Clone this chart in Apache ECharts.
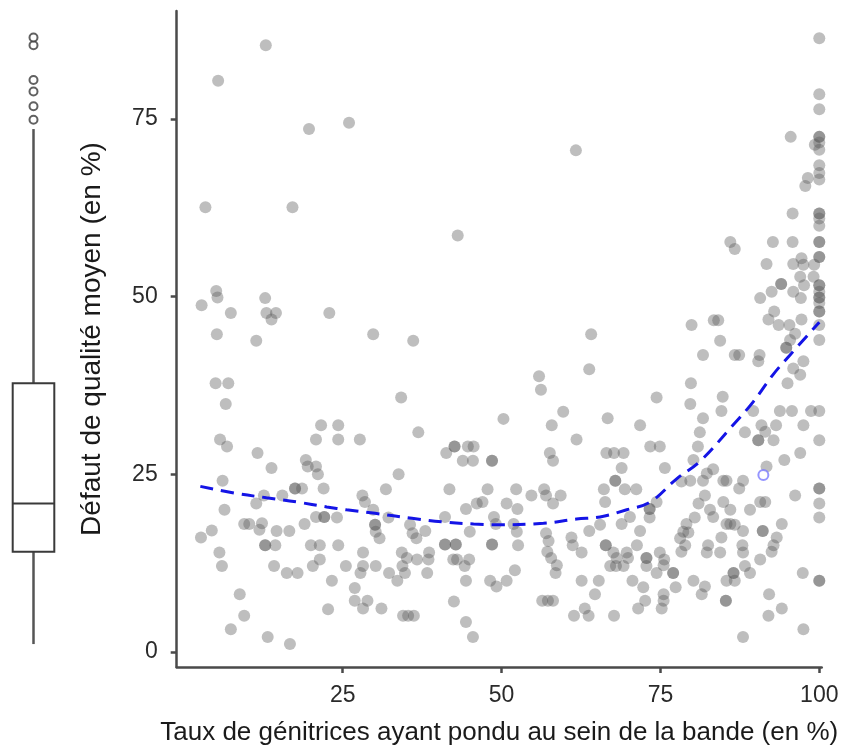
<!DOCTYPE html>
<html>
<head>
<meta charset="utf-8">
<script src="https://cdn.jsdelivr.net/npm/echarts@6/dist/echarts.min.js"></script>
<style>
html,body{margin:0;padding:0;background:#fff;}
#chart{width:862px;height:749px;}
</style>
</head>
<body>
<div id="chart"></div>
<script>
// ---- data ----
const xTicks = [25, 50, 75, 100];
const yTicks = [0, 25, 50, 75];
const xAxisTitle = 'Taux de génitrices ayant pondu au sein de la bande (en %)';
const yAxisTitle = 'Défaut de qualité moyen (en %)';

// scatter points [taux pondu %, défaut qualité %]
const pointsLeft = [
[12.9,85.4],[5.4,80.4],[19.7,73.6],[26.0,74.5],[3.4,62.6],[17.1,62.6],[5.1,50.8],[5.3,49.9],[2.8,48.8],[7.4,47.7],[12.8,49.8],[13.0,47.7],[14.5,47.7],[13.8,46.8],[22.9,47.7],[61.7,70.6],[43.1,58.6],
[5.2,44.7],[11.4,43.8],[5.0,37.8],[7.0,37.8],[6.6,34.9],[5.7,29.9],[6.8,28.9],[11.6,28.0],[13.8,25.9],[21.6,31.9],[20.8,29.9],[24.3,31.9],[24.3,29.9],[19.2,27.0],[19.5,26.1],[20.8,26.1],[21.1,25.0],[6.1,24.1],[17.5,23.0],[17.5,23.0],[18.6,23.0],[22.0,23.0],[15.5,22.0],[12.6,22.0],[11.4,20.9],[6.4,20.0],[9.5,18.0],[10.3,18.0],[12.3,18.1],[11.9,17.2],[4.4,17.1],[2.7,16.1],[14.6,17.0],[16.6,17.0],[19.0,18.0],[20.8,19.0],[22.1,19.0],[22.1,19.0],[24.1,18.9],[12.8,15.0],[12.8,15.0],[14.4,15.0],[20.0,15.0],[21.4,15.0],[24.3,15.0],[5.6,14.0],[6.0,12.1],[14.2,12.1],[16.2,11.1],[17.9,11.1],[20.3,12.1],[21.4,13.0],[23.3,10.0],[8.8,8.1],[9.5,5.1],[22.7,6.0],[7.4,3.2],[13.2,2.1],[16.7,1.1]
];
const pointsMiddle = [
[29.8,44.7],[36.1,43.8],[34.2,35.8],[36.9,30.9],[27.7,29.9],[50.3,32.8],[42.6,28.9],[42.6,28.9],[41.3,28.0],[44.7,28.9],[45.6,28.9],[43.9,26.9],[45.5,26.9],[48.5,26.9],[48.5,26.9],[33.8,25.0],[31.8,22.9],[41.8,22.9],[47.8,22.9],[28.1,22.0],[28.5,21.1],[29.8,20.0],[44.4,20.1],[46.1,20.9],[47.0,21.1],[50.8,20.9],[32.2,18.9],[30.1,17.9],[30.1,17.9],[30.2,16.9],[30.8,16.0],[35.6,17.9],[36.0,16.7],[36.6,16.0],[38.0,17.0],[41.1,19.0],[45.0,16.9],[48.8,19.0],[49.1,18.0],[28.2,14.0],[25.5,12.1],[28.2,12.1],[30.2,12.1],[27.8,11.1],[32.3,11.1],[34.3,14.0],[35.1,13.2],[34.4,12.1],[34.8,11.1],[36.7,13.0],[38.6,14.0],[38.5,13.0],[38.3,11.1],[33.6,10.0],[41.1,15.1],[41.1,15.1],[42.8,15.1],[42.8,15.1],[42.4,13.0],[43.0,13.0],[44.9,13.0],[44.2,12.1],[48.5,15.1],[48.5,15.1],[44.4,10.0],[48.2,10.0],[49.2,9.2],[50.8,10.0],[26.9,9.0],[26.9,7.2],[28.2,6.1],[28.9,7.2],[31.1,6.1],[34.5,5.1],[35.3,5.1],[36.2,5.1],[42.5,7.1],[44.4,4.2],[45.5,2.1],
[64.1,44.7],[63.8,39.8],[55.9,38.8],[56.2,36.9],[59.7,33.8],[57.9,31.9],[61.8,29.9],[66.7,32.9],[71.8,31.9],[74.4,35.8],[57.6,28.0],[58.1,26.9],[66.5,28.0],[67.7,28.0],[69.2,28.0],[68.9,25.9],[73.4,28.9],[74.9,28.9],[75.7,25.9],[52.3,22.9],[54.7,22.0],[56.7,22.9],[57.0,22.0],[58.1,20.9],[59.3,22.0],[66.1,22.9],[66.3,21.1],[67.9,24.1],[67.9,24.1],[69.4,22.9],[71.2,22.9],[52.5,20.1],[51.9,18.0],[52.4,16.9],[52.6,15.0],[52.1,11.5],[57.0,16.7],[57.4,15.6],[57.2,14.1],[57.8,13.2],[58.7,12.2],[58.5,11.1],[61.0,16.1],[61.2,15.0],[62.6,14.0],[63.8,17.0],[62.6,10.0],[65.3,10.0],[64.7,8.1],[56.4,7.2],[57.3,7.2],[58.1,7.2],[61.4,5.1],[63.1,6.1],[63.7,5.1],[67.7,5.1],[65.5,17.9],[66.4,15.0],[66.4,15.0],[67.6,14.0],[68.1,13.2],[67.1,12.1],[68.0,12.1],[69.7,14.0],[69.9,13.2],[69.2,12.1],[68.9,18.0],[70.2,19.0],[71.8,17.0],[71.3,15.0],[73.3,20.1],[73.3,20.1],[73.3,18.9],[74.4,21.1],[72.8,13.2],[72.8,13.2],[72.8,12.1],[74.9,14.0],[75.6,13.0],[75.5,12.2],[74.4,11.1],[77.0,11.1],[77.0,11.1],[77.4,9.1],[70.6,10.0],[72.3,9.1],[72.6,7.2],[71.5,6.1],[75.5,8.1],[75.5,7.2],[75.2,6.1]
];
const pointsRight = [
[100,86.4],[100,78.5],[100,76.4],[100,72.5],[100,72.5],[100,71.7],[99.3,71.4],[100,70.7],[100,68.5],[100,67.4],[100,66.5],[100,61.7],[100,61.7],[100,61.0],[100,60.0],[100,57.7],[100,57.7],[100,55.6],[100,55.6],[100,51.6],[100,51.6],[100,50.7],[100,49.9],[100,49.9],[100,49.1],[100,47.9],[100,47.9],[100,46.0],
[95.5,72.5],[98.2,66.7],[97.8,65.6],[95.8,61.7],[86.0,57.7],[86.7,56.7],[92.7,57.7],[95.8,57.7],[91.7,54.6],[95.9,54.6],[97.2,55.4],[97.5,54.5],[99.2,54.5],[97.0,52.8],[97.6,51.6],[99.1,52.8],[94.0,51.8],[94.0,51.8],[92.5,50.7],[90.7,49.8],[95.9,50.7],[97.1,49.8],[92.9,47.9],[92.0,46.8],[79.9,46.0],[83.4,46.7],[84.1,46.7],[93.6,46.0],[95.3,46.0],[97.2,46.8],
[84.4,43.8],[81.7,41.8],[86.7,41.8],[87.4,41.8],[90.6,41.8],[90.4,40.9],[94.8,42.8],[94.8,42.8],[95.4,43.9],[96.2,44.8],[100,43.9],[97.5,40.9],[95.9,39.9],[97.0,39.0],[95.0,37.8],[79.8,37.8],[84.8,35.9],[84.6,33.9],[79.7,34.9],[81.7,32.9],[81.2,30.9],[80.9,28.9],[80.2,27.0],[89.6,33.9],[93.8,33.9],[95.7,33.9],[98.7,33.9],[100,33.9],[90.9,31.9],[91.5,31.0],[93.2,31.9],[92.8,29.8],[90.4,29.8],[90.4,29.8],[88.3,30.9],[97.5,31.9],[100,29.8],[97.0,28.0],[94.5,27.0],[91.7,26.1],
[83.3,25.7],[82.3,25.1],[81.7,24.1],[79.7,24.1],[78.3,24.0],[84.9,24.1],[85.4,24.1],[88.0,24.1],[87.4,23.0],[100,23.0],[100,23.0],[96.2,22.0],[100,20.9],[100,18.9],[81.0,20.9],[82.0,22.0],[82.8,20.0],[83.3,19.0],[84.9,21.1],[86.0,20.0],[89.1,20.0],[90.7,21.1],[91.5,21.1],[80.4,18.9],[79.1,18.0],[78.6,16.9],[79.4,16.8],[78.1,16.0],[78.9,15.0],[78.3,14.1],[85.4,18.0],[86.0,18.0],[86.7,17.9],[84.6,16.1],[88.0,17.0],[91.1,17.0],[91.1,17.0],[94.1,18.0],[93.3,16.1],[92.8,15.0],[92.5,14.1],[82.5,15.0],[82.3,14.0],[84.4,14.0],[87.9,15.0],[88.0,14.0],[90.7,13.0],[88.3,12.1],[89.1,11.1],[86.5,11.1],[86.5,11.1],[85.4,10.0],[86.7,10.0],[80.2,10.0],[82.0,9.2],[81.5,8.1],[85.3,7.2],[85.3,7.2],[97.4,11.1],[100,10.0],[100,10.0],[92.1,8.1],[94.1,6.1],[92.0,5.1],[97.5,3.2],[88.0,2.1]
];
const highlightPoint = [[91.2, 24.9]];

// smoothed trend (dashed blue)
const trendX = [2.6, 8.3, 13.0, 17.8, 22.5, 25.6, 30.1, 35.9, 40.6, 45.6, 49.7, 56.6, 61.8, 65.5, 69.7, 73.4, 77.6, 81.2, 86.4, 89.6, 92.7, 95.4, 100];
const trendY = [23.3, 22.3, 21.7, 21.1, 20.4, 20.0, 19.5, 18.8, 18.3, 18.0, 17.9, 18.1, 18.7, 19.0, 20.0, 21.1, 24.4, 26.8, 31.9, 35.2, 39.0, 41.8, 46.4];

// marginal boxplot of the y values: [low whisker, Q1, median, Q3, high whisker]
const boxStats = [1.1, 14.1, 20.9, 37.8, 73.6];
const boxOutliers = [74.9, 76.8, 78.9, 80.5, 85.4, 86.5];

// ---- chart ----
const Y_MIN = -2.13, Y_MAX = 90.22;
const X_MIN = -1.12, X_MAX = 100.38;
const FONT = "'Liberation Sans', Arial, sans-serif";
const AXIS_COLOR = '#4a4a4a';

const allPoints = pointsLeft.concat(pointsMiddle, pointsRight);
const trend = trendX.map((x, i) => [x, trendY[i]]);

const chart = echarts.init(document.getElementById('chart'), null, {renderer: 'canvas'});
chart.setOption({
  animation: false,
  backgroundColor: '#ffffff',
  grid: [
    {left: 176.7, right: 40.3, top: 11, bottom: 82, containLabel: false, outerBoundsMode: 'none'},
    {left: 0, width: 67, top: 11, bottom: 82, containLabel: false, outerBoundsMode: 'none'}
  ],
  xAxis: [
    {
      type: 'value', gridIndex: 0, min: X_MIN, max: X_MAX,
      name: xAxisTitle, nameLocation: 'middle', nameGap: 53,
      nameTextStyle: {fontFamily: FONT, fontSize: 26, color: '#1a1a1a'},
      axisLine: {show: true, onZero: false, lineStyle: {color: AXIS_COLOR, width: 2.5}},
      axisTick: {show: true, length: 6, customValues: xTicks, lineStyle: {color: AXIS_COLOR, width: 2.5}},
      axisLabel: {show: true, customValues: xTicks, margin: 17, fontFamily: FONT, fontSize: 23, color: '#2a2a2a'},
      splitLine: {show: false}
    },
    {
      type: 'value', gridIndex: 1, min: -1, max: 1, show: false
    }
  ],
  yAxis: [
    {
      type: 'value', gridIndex: 0, min: Y_MIN, max: Y_MAX,
      name: yAxisTitle, nameLocation: 'middle', nameGap: 70, nameRotate: 90,
      nameTextStyle: {fontFamily: FONT, fontSize: 28, color: '#1a1a1a'},
      axisLine: {show: true, onZero: false, lineStyle: {color: AXIS_COLOR, width: 2.5}},
      axisTick: {show: true, length: 6, customValues: yTicks, lineStyle: {color: AXIS_COLOR, width: 2.5}},
      axisLabel: {show: true, customValues: yTicks, margin: 19, fontFamily: FONT, fontSize: 23, color: '#2a2a2a'},
      splitLine: {show: false}
    },
    {
      type: 'value', gridIndex: 1, min: Y_MIN, max: Y_MAX, show: false
    }
  ],
  series: [
    {
      type: 'scatter', xAxisIndex: 0, yAxisIndex: 0,
      data: allPoints, symbolSize: 12,
      itemStyle: {color: 'rgba(85,85,85,0.48)'},
      z: 2
    },
    {
      type: 'scatter', xAxisIndex: 0, yAxisIndex: 0,
      data: highlightPoint, symbol: 'emptyCircle', symbolSize: 10,
      itemStyle: {color: '#7a7aff', borderColor: '#7a7aff', borderWidth: 1.2},
      z: 3
    },
    {
      type: 'line', xAxisIndex: 0, yAxisIndex: 0,
      data: trend, smooth: 0.4, symbol: 'none',
      lineStyle: {color: '#1414e6', width: 3, type: [13, 8]},
      z: 4
    },
    {
      type: 'custom', xAxisIndex: 1, yAxisIndex: 1,
      data: [[0].concat(boxStats)],
      renderItem: function (params, api) {
        const cx = api.coord([api.value(0), 0])[0];
        const yLow = api.coord([0, api.value(1)])[1];
        const yQ1 = api.coord([0, api.value(2)])[1];
        const yMed = api.coord([0, api.value(3)])[1];
        const yQ3 = api.coord([0, api.value(4)])[1];
        const yHigh = api.coord([0, api.value(5)])[1];
        const half = 20.8;
        return {
          type: 'group',
          children: [
            {type: 'line', shape: {x1: cx, y1: yQ3, x2: cx, y2: yHigh}, style: {stroke: '#555', lineWidth: 2.5}},
            {type: 'line', shape: {x1: cx, y1: yQ1, x2: cx, y2: yLow}, style: {stroke: '#555', lineWidth: 2.5}},
            {type: 'rect', shape: {x: cx - half, y: yQ3, width: 2 * half, height: yQ1 - yQ3}, style: {stroke: '#3a3a3a', lineWidth: 2, fill: '#fff'}},
            {type: 'line', shape: {x1: cx - half, y1: yMed, x2: cx + half, y2: yMed}, style: {stroke: '#3a3a3a', lineWidth: 2}}
          ]
        };
      },
      z: 2
    },
    {
      type: 'scatter', xAxisIndex: 1, yAxisIndex: 1,
      data: boxOutliers.map(v => [0, v]),
      symbol: 'emptyCircle', symbolSize: 8,
      itemStyle: {color: '#3a3a3a', borderColor: '#3a3a3a', borderWidth: 1.6},
      z: 3
    }
  ]
});
</script>
</body>
</html>
